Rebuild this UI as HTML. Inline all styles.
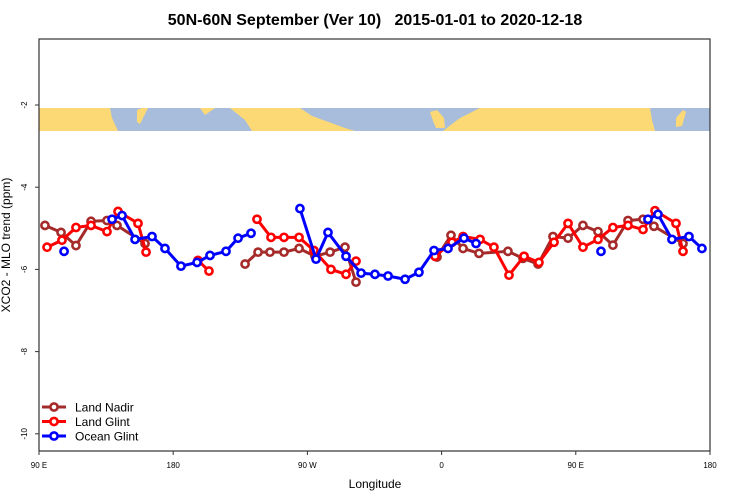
<!DOCTYPE html>
<html><head><meta charset="utf-8"><style>
body{margin:0;background:#fff;}
svg{display:block;font-family:"Liberation Sans",sans-serif;}
</style></head><body>
<svg id="chart" width="750" height="500" viewBox="0 0 750 500" xmlns="http://www.w3.org/2000/svg">
<text x="375" y="25" text-anchor="middle" font-size="16" font-weight="bold">50N-60N September (Ver 10)&#160;&#160; 2015-01-01 to 2020-12-18</text>
<g>
<rect x="39" y="108" width="671" height="23" fill="#a7bddb"/>
<polygon fill="#fdd976" points="39,108 110,108 112,118 118,131 39,131"/>
<polygon fill="#fdd976" points="230,108 300,108 312,116 345,128 355,131 252,131 245,120"/>
<polygon fill="#fdd976" points="480,108 650,108 652,120 655,131 443,131 452,124 460,118"/>
<polygon fill="#fdd976" points="430,112 437,110 444,118 445,128 436,128 433,121"/>
<polygon fill="#fdd976" points="676,118 683,110 686,112 682,126 676,127"/>
<polygon fill="#fdd976" points="137,110 142,108 148,108 140,124 137,122"/>
<polygon fill="#fdd976" points="200,108 215,108 205,115"/>
</g>
<g id="axes" stroke="#333" stroke-width="1.2" fill="none">
<rect x="39" y="39" width="671" height="412"/>
</g>
<g id="yticks"></g>
<g id="xticks"></g>
<text transform="translate(10,245) rotate(-90)" text-anchor="middle" font-size="12">XCO2 - MLO trend (ppm)</text>
<text x="375" y="488" text-anchor="middle" font-size="12">Longitude</text>
<g id="series"></g>
<g id="legend"></g>
</svg>
<script>
const yTicks=[-2,-4,-6,-8,-10];
const xTickVals=[90,180,270,360,450,540];
const xTickLabels=["90 E","180","90 W","0","90 E","180"];
const seriesNames=["Land Nadir","Land Glint","Ocean Glint"];
const seriesColors=["#a52a2a","#ff0000","#0000ff"];
const nadirLon=[94.0,104.8,114.8,124.9,135.6,142.3,161.1,null,228.2,236.9,244.9,254.3,264.4,275.1,285.2,295.2,302.6,null,356.9,366.3,374.4,385.1,404.5,414.6,424.7,434.7,444.8,454.8,464.9,474.9,485.0,495.1,502.4,521.9];
const nadirVal=[-4.93,-5.10,-5.42,-4.83,-4.81,-4.93,-5.37,null,-5.87,-5.58,-5.58,-5.58,-5.49,-5.68,-5.58,-5.46,-6.31,null,-5.70,-5.17,-5.49,-5.61,-5.56,-5.73,-5.87,-5.20,-5.24,-4.93,-5.08,-5.41,-4.81,-4.78,-4.95,-5.37];
const glintLon=[95.4,105.4,114.8,124.9,135.6,143.0,156.4,161.8,null,196.6,204.0,null,236.2,245.6,254.3,264.4,274.4,285.8,295.9,302.6,null,355.6,367.0,374.4,385.8,395.1,405.2,415.3,425.3,435.4,444.8,454.8,464.9,474.9,485.0,495.1,503.1,517.2,521.9];
const glintVal=[-5.46,-5.29,-4.98,-4.93,-5.08,-4.59,-4.88,-5.58,null,-5.78,-6.04,null,-4.78,-5.22,-5.22,-5.22,-5.54,-6.00,-6.12,-5.80,null,-5.68,-5.34,-5.20,-5.27,-5.46,-6.14,-5.68,-5.83,-5.34,-4.88,-5.46,-5.27,-4.98,-4.93,-5.03,-4.57,-4.88,-5.56];
const oceanLon=[106.8,null,139.0,145.7,154.4,165.8,174.5,185.2,196.0,204.7,215.4,223.5,232.2,null,265.0,275.8,283.8,295.9,306.0,315.3,324.1,335.5,344.8,354.9,364.3,375.0,383.1,null,466.9,null,498.4,505.1,514.5,525.9,534.6];
const oceanVal=[-5.56,null,-4.78,-4.69,-5.27,-5.20,-5.49,-5.92,-5.83,-5.66,-5.56,-5.24,-5.12,null,-4.52,-5.75,-5.10,-5.68,-6.09,-6.12,-6.16,-6.24,-6.07,-5.54,-5.49,-5.24,-5.37,null,-5.56,null,-4.78,-4.66,-5.27,-5.20,-5.49];
const NS="http://www.w3.org/2000/svg";
function xs(l){return 39+(l-90)*1.4911;}
function ys(v){return 105+(-2-v)*41.1;}
function mk(t,a,p){const e=document.createElementNS(NS,t);for(const k in a)e.setAttribute(k,a[k]);p.appendChild(e);return e;}
const yg=document.getElementById('yticks');
yTicks.forEach(v=>{
  const l=mk('line',{x1:35,x2:39,y1:ys(v),y2:ys(v),stroke:'#333'},yg);
  
  
  const t=mk('text',{transform:`translate(27,${ys(v)}) rotate(-90)`,'text-anchor':'middle','font-size':8},yg);
  
  
  t.textContent=String(v);
});
const xg=document.getElementById('xticks');
xTickVals.forEach((v,i)=>{
  const l=mk('line',{x1:xs(v),x2:xs(v),y1:451,y2:455,stroke:'#333'},xg);
  
  
  const t=mk('text',{x:xs(v),y:468,'text-anchor':'middle','font-size':8},xg);
  
  
  t.textContent=xTickLabels[i];
});
const sg=document.getElementById('series');
[[nadirLon,nadirVal],[glintLon,glintVal],[oceanLon,oceanVal]].forEach((s,si)=>{
  const g=mk('g',{},sg);
  
  
  let seg=[];const segs=[];
  s[0].forEach((l,i)=>{if(l===null||s[1][i]===null){if(seg.length)segs.push(seg);seg=[];}else seg.push([xs(l),ys(s[1][i])]);});
  if(seg.length)segs.push(seg);
  segs.forEach(sgm=>{
    if(sgm.length>1){const pl=mk('polyline',{points:sgm.map(p=>p.join(',')).join(' '),fill:'none',stroke:seriesColors[si],'stroke-width':3,'stroke-linejoin':'round'},g);
      
      }
    sgm.forEach(p=>{const c=mk('circle',{cx:p[0],cy:p[1],r:3.6,fill:'#fff',stroke:seriesColors[si],'stroke-width':2.6},g);
      
      });
  });
});
const lg=document.getElementById('legend');
seriesNames.forEach((n,i)=>{
  const y=407+i*14.5;
  const l=mk('line',{x1:42,x2:66,y1:y,y2:y,stroke:seriesColors[i],'stroke-width':3},lg);
  
  
  const c=mk('circle',{cx:54,cy:y,r:3.6,fill:'#fff',stroke:seriesColors[i],'stroke-width':2.6},lg);
  
  
  const t=mk('text',{x:75,y:y+4.5,'font-size':12},lg);
  
  
  t.textContent=n;
});
</script>
</body></html>
